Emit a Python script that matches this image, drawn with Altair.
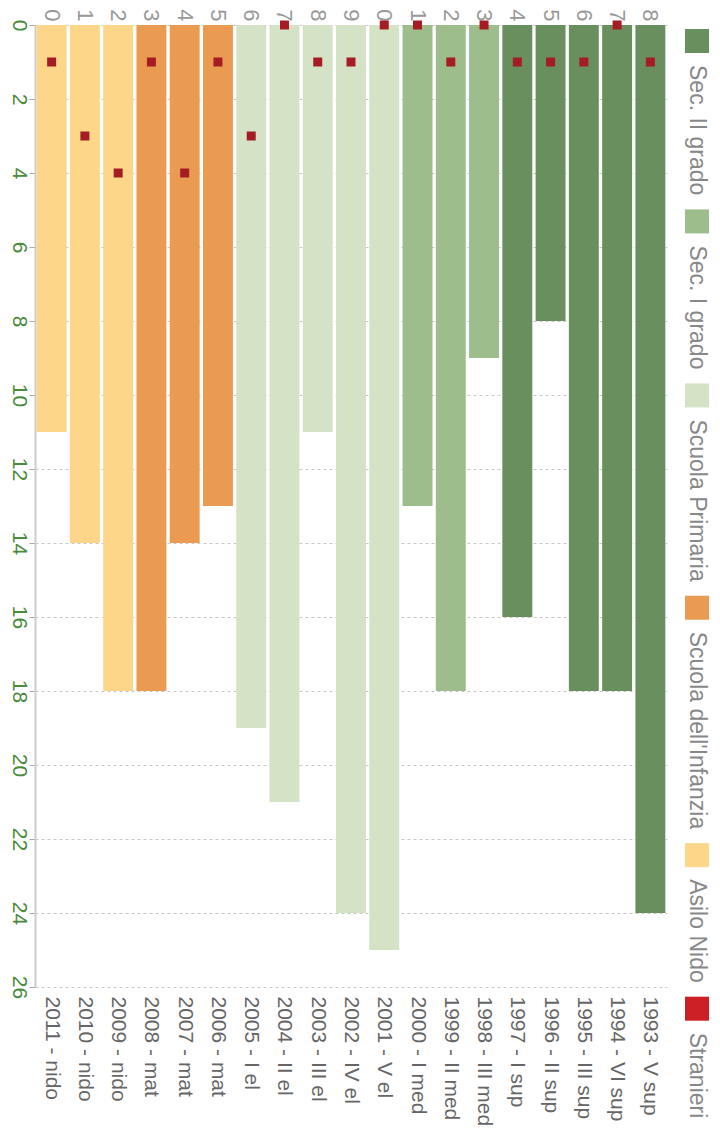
import altair as alt
import pandas as pd

CATS = ["2011 - nido", "2010 - nido", "2009 - nido", "2008 - mat", "2007 - mat", "2006 - mat",
        "2005 - I el", "2004 - II el", "2003 - III el", "2002 - IV el", "2001 - V el",
        "2000 - I med", "1999 - II med", "1998 - III med", "1997 - I sup", "1996 - II sup",
        "1995 - III sup", "1994 - VI sup", "1993 - V sup"]
TOP_LABELS = ["0", "1", "2", "3", "4", "5", "6", "7", "8", "9",
              "0", "1", "2", "3", "4", "5", "6", "7", "8"]
LEVEL = ["Asilo Nido"] * 3 + ["Scuola dell'Infanzia"] * 3 + ["Scuola Primaria"] * 5 + \
        ["Sec. I grado"] * 3 + ["Sec. II grado"] * 5
ALUNNI = [11, 14, 18, 18, 14, 13, 19, 21, 11, 24, 25, 13, 18, 9, 16, 8, 18, 18, 24]
STRANIERI = [1, 3, 4, 1, 4, 1, 3, 0, 1, 1, 0, 0, 1, 0, 1, 1, 1, 0, 1]
Y_TICKS = [0, 2, 4, 6, 8, 10, 12, 14, 16, 18, 20, 22, 24, 26]

LEGEND_LABELS = ["Sec. II grado", "Sec. I grado", "Scuola Primaria",
                 "Scuola dell'Infanzia", "Asilo Nido", "Stranieri"]
LEGEND_COLORS = ["#6a8f5e", "#9dbd8c", "#d4e3c6", "#eb9a52", "#fdd68a", "#cc1f26"]
LEVELS = LEGEND_LABELS[:5]
LEVEL_COLORS = LEGEND_COLORS[:5]
MARKER_COLOR = "#a51c24"

FONT = "Liberation Sans"

df = pd.DataFrame({"cat": CATS, "level": LEVEL, "n": ALUNNI, "str": STRANIERI})

cats_js = ",".join("'" + c + "'" for c in CATS)
tops_js = ",".join("'" + t + "'" for t in TOP_LABELS)
top_expr = f"[{tops_js}][indexof([{cats_js}], datum.value)]"

W, H = 632, 962

yscale = alt.Scale(domain=[0, 26], reverse=True, nice=False, zero=True)
xscale = alt.Scale(paddingInner=0.1, paddingOuter=0.05)
yaxis = alt.Axis(title=None, values=Y_TICKS, labelAngle=90,
                 labelAlign="center", labelBaseline="top", labelFontSize=21,
                 labelColor="#4a8a3c", labelFont=FONT, labelPadding=0,
                 tickColor="#aaaaaa", tickSize=6, domainColor="#cccccc",
                 domainWidth=2, gridColor="#c8c8c8", gridDash=[3, 3])

bars = alt.Chart(df).mark_bar().encode(
    x=alt.X("cat:N", sort=CATS, scale=xscale,
            axis=alt.Axis(orient="bottom", title=None, labelAngle=90, labelAlign="left",
                          labelBaseline="middle", labelFontSize=21, labelColor="#666666",
                          labelPadding=9, ticks=False, domain=False, grid=False,
                          labelFont=FONT)),
    y=alt.Y("n:Q", scale=yscale, axis=yaxis),
    color=alt.Color("level:N", scale=alt.Scale(domain=LEVELS, range=LEVEL_COLORS), legend=None),
)

points = alt.Chart(df).mark_square(size=81, color=MARKER_COLOR, opacity=1).encode(
    x=alt.X("cat:N", sort=CATS, scale=xscale,
            axis=alt.Axis(orient="top", title=None, labelAngle=90, labelAlign="right",
                          labelBaseline="middle", labelFontSize=22, labelColor="#999999",
                          labelPadding=4, ticks=False, domain=False, grid=False,
                          labelExpr=top_expr, labelFont=FONT)),
    y=alt.Y("str:Q", scale=yscale, axis=yaxis),
)

main = alt.layer(bars, points).resolve_axis(x="independent").properties(width=W, height=H)

# legend built as rotated items
CW = {" ": 278, ".": 278, "'": 191, "-": 333, "A": 667, "I": 278, "N": 722, "P": 667,
      "S": 667, "a": 556, "c": 500, "d": 556, "e": 556, "f": 278, "g": 556, "i": 222,
      "l": 222, "m": 833, "n": 556, "o": 556, "p": 556, "r": 333, "s": 500, "t": 278,
      "u": 556, "z": 500}
LFS = 23
SYM = 24
pos = 4.0
sym_y, txt_y = [], []
for lab in LEGEND_LABELS:
    sym_y.append(pos + SYM / 2)
    txt_y.append(pos + SYM + 12)
    w = sum(CW.get(ch, 556) for ch in lab) * LFS / 1000.0
    pos += SYM + 12 + w + 14

LH = 1117
leg_df = pd.DataFrame({"label": LEGEND_LABELS, "color": LEGEND_COLORS,
                       "sy": sym_y, "ty": txt_y})
lscale = alt.Scale(domain=[0, LH], reverse=True, nice=False, zero=False)

leg_sym = alt.Chart(leg_df).mark_square(size=SYM * SYM, opacity=1).encode(
    x=alt.value(11),
    y=alt.Y("sy:Q", scale=lscale, axis=None),
    color=alt.Color("color:N", scale=None),
)
leg_txt = alt.Chart(leg_df).mark_text(angle=90, align="left", baseline="middle",
                                      fontSize=LFS, font=FONT, color="#888888").encode(
    x=alt.value(11),
    y=alt.Y("ty:Q", scale=lscale, axis=None),
    text="label:N",
)
legend = alt.layer(leg_sym, leg_txt).properties(width=24, height=LH)

chart = alt.hconcat(main, legend, spacing=18).properties(padding=0).configure_view(stroke=None)

chart.save("out.html", embed_options={"renderer": "svg", "actions": False})
